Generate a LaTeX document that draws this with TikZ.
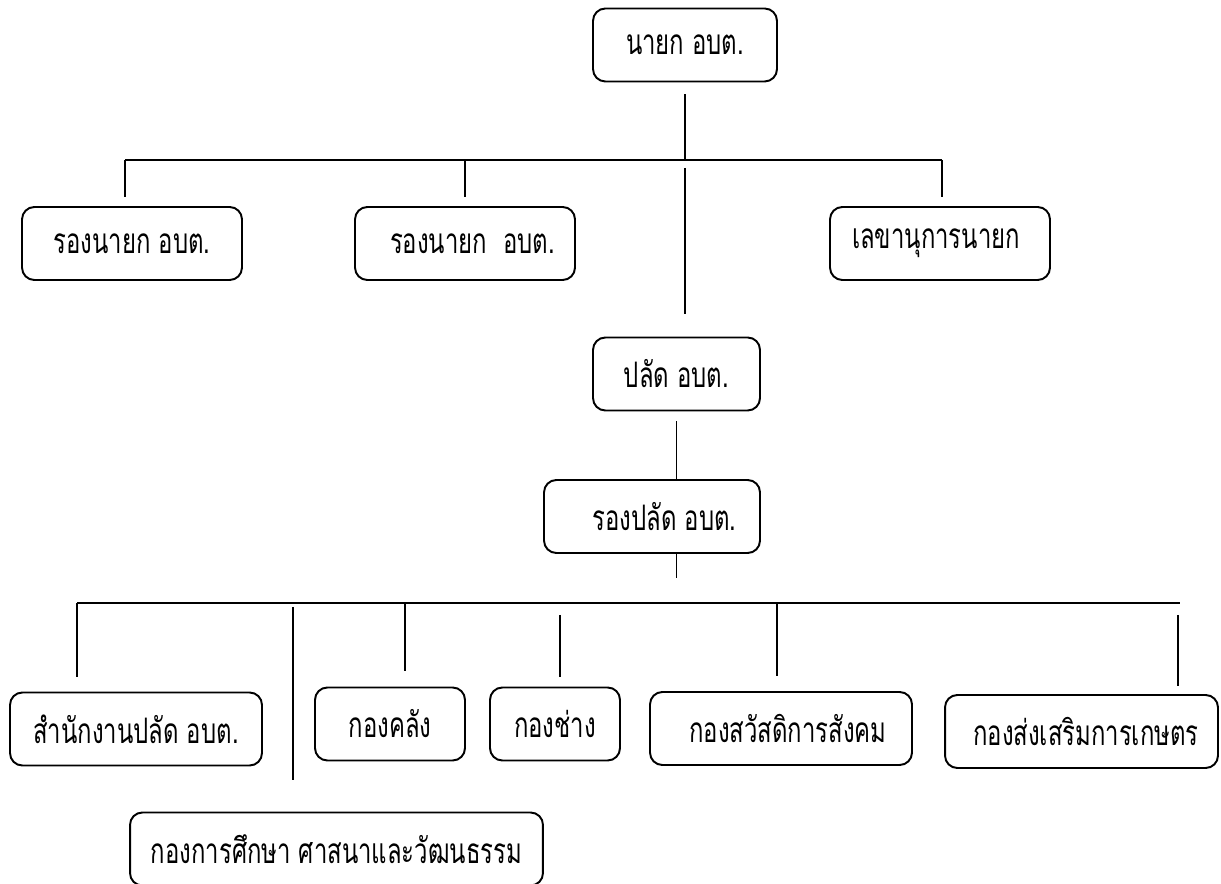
\documentclass[tikz,border=0pt]{standalone}
\usepackage{fontspec}
\newfontfamily\thaifont[Script=Thai, FakeStretch=0.68]{Loma}

\begin{document}
\begin{tikzpicture}[x=0.02cm, y=-0.02cm,
                    office/.style={rectangle, draw, rounded corners=7pt,
                                   line width=1.1pt, minimum height=1.46cm},
                    link/.style={line width=0.9pt},
                    font=\thaifont\fontsize{20pt}{22pt}\selectfont]
  \useasboundingbox (0, 0) rectangle (1221, 884);

  % Executives.
  \node at (685, 45) [office, minimum width=3.68cm, name=Mayor] {นายก อบต.};
  \node at (132, 243.5) [office, minimum width=4.4cm, name=DeputyA] {รองนายก อบต.};
  \node at (465, 243.5) [office, minimum width=4.4cm, name=DeputyB] {\hspace*{0.3cm}รองนายก~ อบต.};
  \node at (940, 243.5) [office, minimum width=4.4cm, name=Secretary] {เลขานุการนายก\hspace*{0.16cm}};

  % Permanent staff.
  \node at (676.5, 374) [office, minimum width=3.34cm, name=Clerk] {ปลัด อบต.};
  \node at (652, 516.5) [office, minimum width=4.32cm, name=DeputyClerk] {\hspace*{0.5cm}รองปลัด อบต.};

  % Divisions.
  \node at (136, 729) [office, minimum width=5.04cm, name=ClerkOffice] {สำนักงานปลัด อบต.};
  \node at (390, 724) [office, minimum width=3cm, name=Finance] {กองคลัง};
  \node at (555, 724) [office, minimum width=2.6cm, name=Works] {กองช่าง};
  \node at (781, 728.5) [office, minimum width=5.24cm, name=Welfare] {\hspace*{0.28cm}กองสวัสดิการสังคม};
  \node at (1081.5, 731.5) [office, minimum width=5.46cm, name=Agriculture] {\hspace*{0.18cm}กองส่งเสริมการเกษตร};
  \node at (336.5, 849) [office, minimum width=8.26cm, name=Education] {กองการศึกษา ศาสนาและวัฒนธรรม};

  % Bus lines.
  \coordinate (upperLeft) at (125, 160);
  \coordinate (upperRight) at (942, 160);
  \coordinate (lowerLeft) at (77, 603);
  \coordinate (lowerRight) at (1180, 603);
  \coordinate (educationTap) at (293, 603);
  \coordinate (financeTap) at (405, 603);
  \coordinate (worksTap) at (560, 603);
  \coordinate (welfareTap) at (777, 603);
  \coordinate (agricultureTap) at (1178, 603);

  % Mayor and deputies.
  \draw [link, shorten <=0.24cm] (Mayor.south)
             to (Mayor.south |- upperLeft);
  \draw [link] (upperLeft) to (upperRight);
  \draw [link, shorten >=0.18cm] (upperLeft)
             to (upperLeft |- DeputyA.north);
  \draw [link, shorten >=0.18cm] (DeputyB.north |- upperLeft)
             to (DeputyB.north);
  \draw [link, shorten >=0.18cm] (upperRight)
             to (upperRight |- Secretary.north);

  % Down to the clerk.
  \draw [link, shorten <=0.16cm, shorten >=0.46cm] (Mayor.south |- upperLeft)
             to (Mayor.south |- Clerk.north);
  \draw [link, shorten <=0.2cm] (Clerk.south)
             to (Clerk.south |- DeputyClerk.north);
  \draw [link, shorten >=0.5cm] (DeputyClerk.south -| Clerk.south)
             to (Clerk.south |- lowerLeft);

  % Divisions.
  \draw [link] (lowerLeft) to (lowerRight);
  \draw [link, shorten >=0.3cm] (lowerLeft)
             to (lowerLeft |- ClerkOffice.north);
  \draw [link, shorten <=0.08cm, shorten >=0.64cm] (educationTap)
             to (educationTap |- Education.north);
  \draw [link, shorten >=0.32cm] (financeTap)
             to (financeTap |- Finance.north);
  \draw [link, shorten <=0.24cm, shorten >=0.2cm] (worksTap)
             to (worksTap |- Works.north);
  \draw [link, shorten >=0.3cm] (welfareTap)
             to (welfareTap |- Welfare.north);
  \draw [link, shorten <=0.24cm, shorten >=0.16cm] (agricultureTap)
             to (agricultureTap |- Agriculture.north);
\end{tikzpicture}
\end{document}
